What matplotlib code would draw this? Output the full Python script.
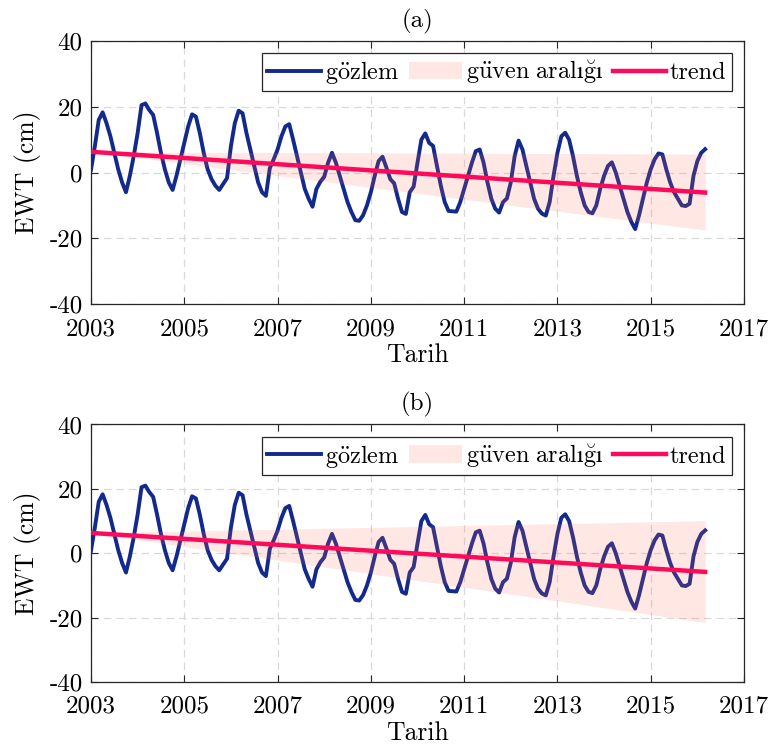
import numpy as np
import matplotlib
matplotlib.use("Agg")
import matplotlib.pyplot as plt

plt.rcParams["font.family"] = "serif"
plt.rcParams["font.serif"] = ["cmr10"]
plt.rcParams["mathtext.fontset"] = "cm"
plt.rcParams["axes.unicode_minus"] = False
plt.rcParams["axes.formatter.use_mathtext"] = True

# monthly EWT observations (cm), Jan 2003 - Mar 2016
ewt = [
    0.8, 8, 16, 18.3, 15, 11, 6, 1, -3, -6, -1, 5,  # 2003
    12, 20.5, 21, 19, 17.5, 12, 6, 1, -3, -5.3, -1, 4,  # 2004
    9, 14, 17.7, 17, 12, 6, 1, -2, -4, -5.3, -3.5, -1.7,  # 2005
    8, 15, 18.8, 18, 12, 7, 2, -3, -6, -7.1, 1.3, 4,  # 2006
    7, 11, 14, 14.7, 10, 5, 0, -5, -8, -10.4, -5, -2.8,  # 2007
    -1.3, 3, 6, 3, -1, -5, -9, -12, -14.5, -14.7, -13, -10,  # 2008
    -6, -1, 3.5, 4.8, 1.5, -2, -3.3, -8, -12, -12.6, -6, -4.3,  # 2009
    3, 10, 11.9, 9, 8.1, 2, -4, -9, -11.7, -11.8, -11.9, -9,  # 2010
    -5, -1, 3, 6.5, 7, 3, -3, -8, -11, -12.2, -9, -7.9,  # 2011
    -3, 5, 9.7, 7, 2, -3, -8, -11, -12.5, -13.1, -9, -1,  # 2012
    6, 11, 12.1, 10, 5, -1, -6, -10, -12, -12.4, -10, -5,  # 2013
    -1, 2, 3.1, 0, -4, -8, -12, -15, -17.2, -13, -8, -3,  # 2014
    1, 4, 5.8, 5.5, 1, -3, -6, -8, -10, -10.2, -9.5, -1,  # 2015
    3.5, 6, 7.1,  # 2016
]
start_year = 2003
t = start_year + np.arange(len(ewt)) / 12.0
t_ends = [t[0], t[-1]]

# trend and confidence band at the first / last epoch
trend_a = [6.3, -6.1]
band_a_upper = [6.3, 5.6]
band_a_lower = [6.3, -17.5]

trend_b = [6.3, -5.8]
band_b_upper = [6.3, 10.1]
band_b_lower = [6.3, -21.5]

panels = [
    ("(a)", trend_a, band_a_upper, band_a_lower, [0.1177, 0.5952, 0.8448, 0.3502]),
    ("(b)", trend_b, band_b_upper, band_b_lower, [0.1177, 0.0919, 0.8448, 0.3429]),
]

xticks = [2003, 2005, 2007, 2009, 2011, 2013, 2015, 2017]
yticks = [-40, -20, 0, 20, 40]

blue = "#132a8c"
pink = "#ff0a5a"
band_col = (1.0, 0.42, 0.35)

fig = plt.figure(figsize=(7.73, 7.51), dpi=100)

for title, trend, up, lo, rect in panels:
    ax = fig.add_axes(rect)
    l1, = ax.plot(t, ewt, color=blue, lw=2.8, label=r"$\mathrm{g\ddot{o}zlem}$", zorder=3)
    band = ax.fill_between(t_ends, lo, up, color=band_col, alpha=0.16, lw=0,
                           label=r"$\mathrm{g\ddot{u}ven\ aralı\breve{g}ı}$", zorder=4)
    l3, = ax.plot(t_ends, trend, color=pink, lw=3.2, label="trend", zorder=5)

    ax.set_xlim(2003, 2017)
    ax.set_ylim(-40, 40)
    ax.set_xticks(xticks)
    ax.set_yticks(yticks)
    ax.set_xticklabels([str(v) for v in xticks])
    ax.set_yticklabels([str(v) for v in yticks])
    ax.tick_params(direction="in", top=True, right=True, length=5, width=0.8,
                   labelsize=18, color="#262626")
    ax.tick_params(axis="x", pad=10)
    ax.tick_params(axis="y", pad=6)
    for sp in ax.spines.values():
        sp.set_color("#262626")
        sp.set_linewidth(0.9)
    ax.grid(True, ls=(0, (6, 4)), color="#d9d9d9", lw=0.9)
    ax.set_axisbelow(True)

    ax.set_title(title, fontsize=18, pad=10)
    ax.set_xlabel("Tarih", fontsize=18.5, labelpad=2)
    ax.set_ylabel("EWT (cm)", fontsize=18.5, labelpad=6)

    leg = ax.legend(handles=[l1, band, l3], loc="upper right", ncol=3, fontsize=17.5,
                    frameon=True, fancybox=False, edgecolor="#262626", framealpha=1,
                    borderpad=0.22, handlelength=2.2, handletextpad=0.15,
                    columnspacing=0.4, borderaxespad=0.5)
    leg.get_frame().set_linewidth(0.9)

fig.savefig("out.png", dpi=100)
